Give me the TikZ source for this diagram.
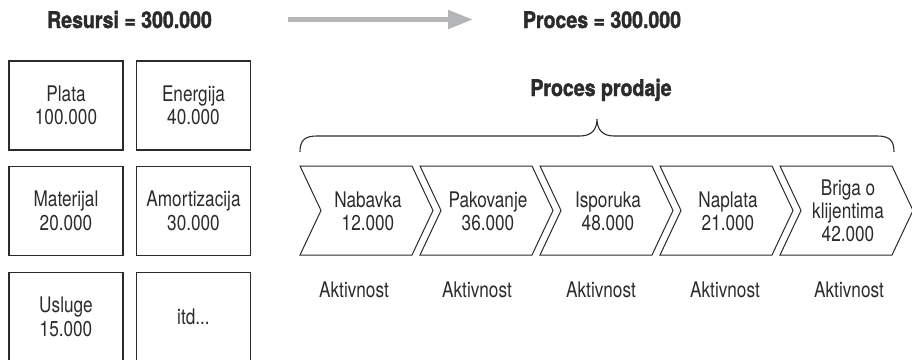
\documentclass[tikz,border=0pt]{standalone}
\usepackage{fontspec}
\setmainfont{TeX Gyre Heros}[FakeStretch=0.8]
\newfontfamily\headfont{TeX Gyre Heros}[FakeStretch=0.85,FakeBold=1.6]
\usetikzlibrary{arrows.meta}
\definecolor{ink}{HTML}{2B2B2B}
\definecolor{arrowgray}{HTML}{B3B5B7}

\begin{document}
\begin{tikzpicture}[x=1pt,y=-1pt,
  every node/.style={text=ink},
  cost/.style={draw=ink, line width=1.1pt, minimum width=114pt, minimum height=89pt,
    align=center, inner sep=0pt, font=\fontsize{21.5}{23.5}\selectfont},
  chev/.style={draw=ink, line width=1pt, line join=miter},
  chevtext/.style={align=center, inner sep=0pt, font=\fontsize{21.5}{23}\selectfont},
  act/.style={anchor=base, inner sep=0pt, font=\fontsize{21.5}{24}\selectfont},
  head/.style={anchor=base, inner sep=0pt, font=\headfont\bfseries\fontsize{23}{26}\selectfont},
  flow/.style={draw=arrowgray, line width=5pt, -{Triangle[length=25pt,width=18pt]}},
  brace/.style={draw=ink, line width=1.1pt},
]
\useasboundingbox (0,0) rectangle (912,359);
\clip (0,0) rectangle (912,359);

% header
\node[head] (res)  at (129.5,28) {Resursi = 300.000};
\node[head] (proc) at (602,28)   {Proces = 300.000};
\coordinate (flowA) at (288,19.5);
\coordinate (flowB) at (473,19.5);
\draw[flow] (flowA) -- (flowB);

% resources
\node[cost] (plata)  at (66,105.5)   {Plata\\100.000};
\node[cost] (energ)  at (193.5,105.5) {Energija\\40.000};
\node[cost] (mater)  at (66,211)     {Materijal\\20.000};
\node[cost] (amort)  at (193.5,211)  {Amortizacija\\30.000};
\node[cost] (usl)    at (66,317)     {Usluge\\15.000};
\node[cost] (itd)    at (193.5,317)  {itd...};

% process title and brace
\node[head] (prodaja) at (601,96) {Proces prodaje};
\coordinate (brL) at (300,152);
\coordinate (brM) at (597,119);
\coordinate (brR) at (894,152);
\draw[brace] (brL) .. controls (300,140) and (305,136) .. (317,136) -- (580,136)
  .. controls (592,136) and (597,129) .. (brM)
  .. controls (597,129) and (602,136) .. (614,136) -- (877,136)
  .. controls (889,136) and (894,140) .. (brR);

% activity chevrons
\foreach \s/\nm/\txt in {300/nab/{Nabavka\\12.000},
                         420/pak/{Pakovanje\\36.000},
                         540/isp/{Isporuka\\48.000},
                         660/nap/{Naplata\\21.000},
                         780/bri/{Briga o\\klijentima\\42.000}}{
  \draw[chev] (\s,166) -- ++(112,0) -- ++(21,44.5) -- ++(-21,44.5)
    -- ++(-112,0) -- ++(21,-44.5) -- cycle;
  \node[chevtext] (\nm) at (\s+68,211) {\txt};
}

% activity labels
\foreach \x/\nm in {354/a1,477/a2,601/a3,725/a4,849/a5}
  \node[act] (\nm) at (\x,297) {Aktivnost};
\end{tikzpicture}
\end{document}
